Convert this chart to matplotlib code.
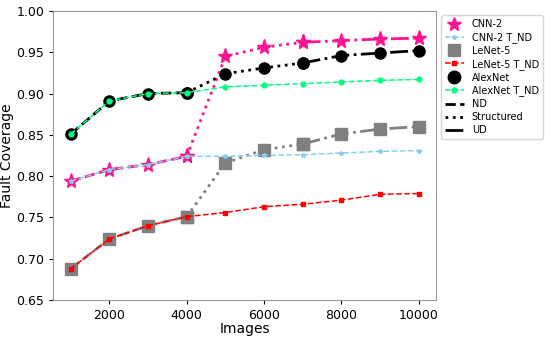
import matplotlib
matplotlib.use("Agg")
import matplotlib.pyplot as plt
from matplotlib.lines import Line2D

images = [1000, 2000, 3000, 4000, 5000, 6000, 7000, 8000, 9000, 10000]

cnn2 = [0.794, 0.808, 0.814, 0.824, 0.945, 0.956, 0.962, 0.964, 0.966, 0.967]
cnn2_tnd = [0.794, 0.808, 0.814, 0.824, 0.824, 0.825, 0.826, 0.828, 0.830, 0.831]
lenet5 = [0.688, 0.724, 0.740, 0.751, 0.816, 0.832, 0.839, 0.851, 0.857, 0.860]
lenet5_tnd = [0.688, 0.724, 0.740, 0.751, 0.756, 0.763, 0.766, 0.771, 0.778, 0.779]
alexnet = [0.851, 0.891, 0.900, 0.901, 0.924, 0.931, 0.937, 0.946, 0.949, 0.952]
alexnet_tnd = [0.851, 0.891, 0.900, 0.901, 0.908, 0.910, 0.912, 0.914, 0.916, 0.917]

# index ranges for the three phases: ND, Structured, UD
phases = [(0, 4, '--'), (3, 7, ':'), (6, 10, '-.')]

fig = plt.figure(figsize=(5.5, 3.41), dpi=100)
ax = fig.add_axes([0.097, 0.12, 0.696, 0.848])

mains = [(cnn2, 'deeppink', '*', 11), (lenet5, 'gray', 's', 8), (alexnet, 'black', 'o', 8)]
tnds = [(cnn2_tnd, 'skyblue', '*'), (lenet5_tnd, 'red', 's'), (alexnet_tnd, 'springgreen', 'o')]

for vals, c, m, ms in mains:
    for a, b, ls in phases:
        ax.plot(images[a:b], vals[a:b], color=c, linestyle=ls, linewidth=2.0,
                marker=m, markersize=ms, zorder=2)

for vals, c, m in tnds:
    ax.plot(images, vals, color=c, linestyle='--', linewidth=1.1,
            marker=m, markersize=3.5, zorder=3)

ax.set_ylim(0.65, 1.0)
ax.set_xticks([2000, 4000, 6000, 8000, 10000])
ax.set_yticks([0.65, 0.70, 0.75, 0.80, 0.85, 0.90, 0.95, 1.00])
ax.tick_params(labelsize=9, length=3)
ax.set_xlabel("Images", fontsize=10, labelpad=0)
ax.set_ylabel("Fault Coverage", fontsize=10, labelpad=2)
for s in ax.spines.values():
    s.set_color('#999999')

handles = [
    Line2D([], [], color='deeppink', marker='*', markersize=10, linestyle='None'),
    Line2D([], [], color='skyblue', marker='*', markersize=3.5, linestyle='--', linewidth=1.1),
    Line2D([], [], color='gray', marker='s', markersize=8, linestyle='None'),
    Line2D([], [], color='red', marker='s', markersize=3.5, linestyle='--', linewidth=1.1),
    Line2D([], [], color='black', marker='o', markersize=9, linestyle='None'),
    Line2D([], [], color='springgreen', marker='o', markersize=3.5, linestyle='--', linewidth=1.1),
    Line2D([], [], color='black', linestyle='--', linewidth=2),
    Line2D([], [], color='black', linestyle=':', linewidth=2),
    Line2D([], [], color='black', linestyle='-.', linewidth=2),
]
labels = ["CNN-2", "CNN-2 T_ND", "LeNet-5", "LeNet-5 T_ND", "AlexNet",
          "AlexNet T_ND", "ND", "Structured", "UD"]
ax.legend(handles, labels, loc='upper left', bbox_to_anchor=(1.012, 0.985),
          fontsize=7, handlelength=2.0, labelspacing=0.3, borderaxespad=0)

fig.savefig("out.png", dpi=100)
